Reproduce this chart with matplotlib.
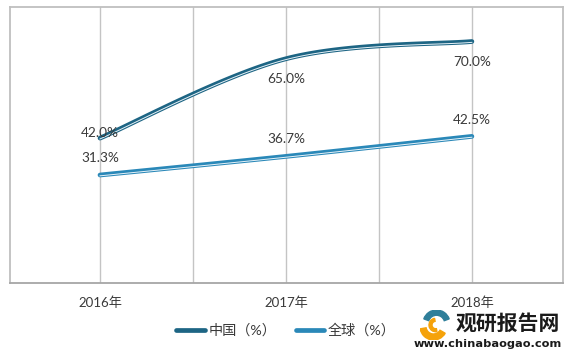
import numpy as np
import matplotlib
matplotlib.use("Agg")
import matplotlib.pyplot as plt
from matplotlib import transforms
from matplotlib.patches import Wedge
from matplotlib.lines import Line2D

categories = ["2016年", "2017年", "2018年"]
china = [42.0, 65.0, 70.0]
world = [31.3, 36.7, 42.5]
china_labels = ["42.0%", "65.0%", "70.0%"]
world_labels = ["31.3%", "36.7%", "42.5%"]
legend_names = ["中国（%）", "全球（%）"]

C_CHINA = "#1d6584"
C_WORLD = "#2a88b8"
TXT = "#3a3a3a"
FAM = ["Lato", "Noto Sans CJK SC", "DejaVu Sans"]
plt.rcParams["font.family"] = FAM


def smooth(xs, ys, n=60):
    """Catmull-Rom style smoothing (like Excel's smoothed line)."""
    pts = np.column_stack([xs, ys]).astype(float)
    ext = np.vstack([pts[0], pts, pts[-1]])
    out = []
    for i in range(1, len(ext) - 2):
        p0, p1, p2, p3 = ext[i - 1], ext[i], ext[i + 1], ext[i + 2]
        c1 = p1 + (p2 - p0) / 6.0
        c2 = p2 - (p3 - p1) / 6.0
        t = np.linspace(0, 1, n)[:, None]
        seg = ((1 - t) ** 3) * p1 + 3 * ((1 - t) ** 2) * t * c1 + 3 * (1 - t) * t ** 2 * c2 + t ** 3 * p2
        out.append(seg if i == 1 else seg[1:])
    s = np.vstack(out)
    return s[:, 0], s[:, 1]


fig = plt.figure(figsize=(5.73, 3.57), dpi=100)
ax = fig.add_axes([10 / 573, 1 - 283 / 357, 553 / 573, 276 / 357])
x = np.arange(len(categories))
ax.set_xlim(-0.484, 2.49)
ax.set_ylim(0, 80)

for gx in np.arange(0, 2.01, 0.5):
    ax.axvline(gx, color="#c4c4c4", lw=1.0, zorder=1)
for s in ax.spines.values():
    s.set_color("#bfbfbf")
    s.set_linewidth(1.3)
ax.spines["bottom"].set_color("#a6a6a6")
ax.set_yticks([])
ax.set_xticks(x)
ax.set_xticklabels(categories, fontsize=9.5, color=TXT)
ax.tick_params(axis="x", length=0, pad=10)


def draw_line(vals, color):
    sx, sy = smooth(x, vals)
    ax.plot(sx, sy, color=color, lw=3.4, solid_capstyle="round", zorder=3)
    off = transforms.offset_copy(ax.transData, fig=fig, x=0, y=-0.6, units="points")
    ax.plot(sx, sy, color="#e8f2f8", lw=0.7, transform=off, zorder=4)


draw_line(china, C_CHINA)
draw_line(world, C_WORLD)

china_off = [5, -20, -20]
world_off = [17, 17, 16]
for i in range(3):
    ax.annotate(china_labels[i], (x[i], china[i]), xytext=(0, china_off[i] * 0.72),
                textcoords="offset points", ha="center", va="center", fontsize=9.8, color=TXT, zorder=5)
    ax.annotate(world_labels[i], (x[i], world[i]), xytext=(0, world_off[i] * 0.72),
                textcoords="offset points", ha="center", va="center", fontsize=9.8, color=TXT, zorder=5)

handles = [Line2D([], [], color=C_CHINA, lw=3.4, solid_capstyle="round"),
           Line2D([], [], color=C_WORLD, lw=3.4, solid_capstyle="round")]
fig.legend(handles, legend_names, loc="center", bbox_to_anchor=(286 / 573, 1 - 330 / 357),
           ncol=2, frameon=False, fontsize=10.2, handlelength=2.0, handletextpad=0.25,
           columnspacing=1.4, labelcolor=TXT)

# watermark
fig.text(456 / 573, 1 - 323 / 357, "观研报告网", fontsize=15, fontweight="bold",
         family=["Noto Sans CJK SC"], color="#1a1a1a", va="center", ha="left")
fig.text(488 / 573, 1 - 344 / 357, "www.chinabaogao.com", fontsize=8.2, fontweight="bold",
         family=["DejaVu Sans"], color="#1a1a1a", va="center", ha="center")
lax = fig.add_axes([418 / 573, 1 - 340 / 357, 34 / 573, 30 / 357])
lax.set_xlim(-1, 1)
lax.set_ylim(-1, 1)
lax.set_aspect("equal")
lax.axis("off")
lax.add_patch(Wedge((0.1, 0.1), 0.9, 20, 160, width=0.35, color="#2f7f9a"))
lax.add_patch(Wedge((-0.1, -0.1), 0.9, 190, 330, width=0.4, color="#f5a20a"))
lax.add_patch(Wedge((0.05, 0.0), 0.45, 100, 280, width=0.2, color="#f5a20a"))

fig.savefig("out.png", dpi=100)
